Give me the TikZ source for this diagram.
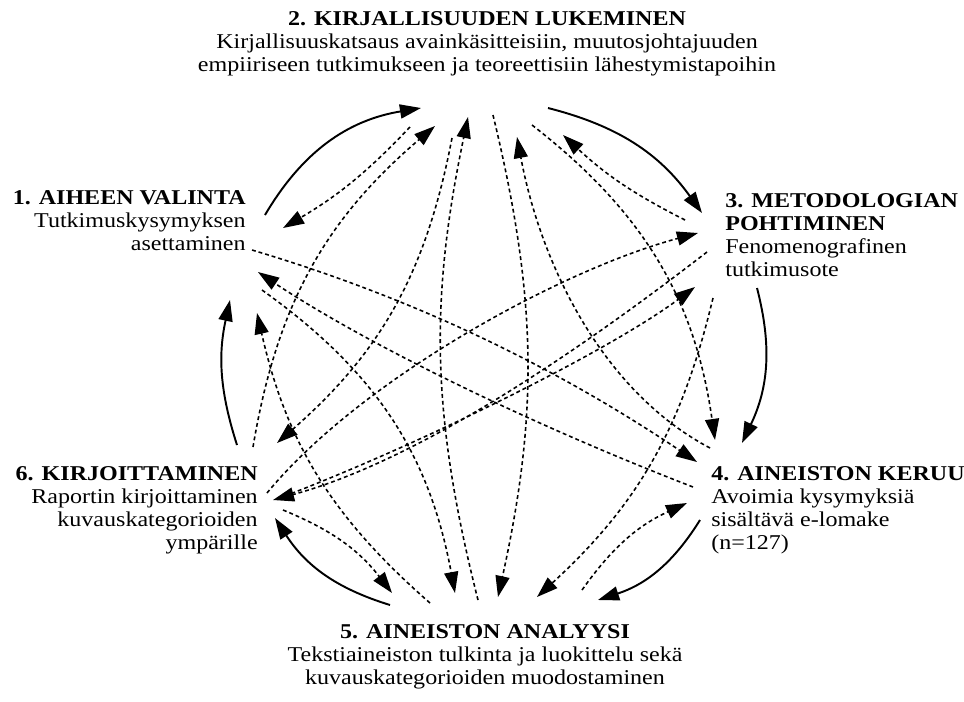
\documentclass[tikz,border=0pt]{standalone}
\usepackage{fontspec}
\setmainfont[FakeStretch=1.14]{Liberation Serif}
\usetikzlibrary{arrows.meta}
\begin{document}
\begin{tikzpicture}[x=0.02cm,y=-0.02cm,
  lbl/.style={font=\fontsize{12}{13.2}\selectfont, inner sep=0pt},
  tip/.style={-{Triangle[length=12pt,width=8pt]}},
  flow/.style={tip, line width=1.1pt},
  back/.style={tip, line width=0.9pt, dash pattern=on 2.2pt off 1.7pt}]
\useasboundingbox (0,0) rectangle (964,701);

% stage texts
\node[lbl, align=center, anchor=north] (t2) at (487,11)
  {\textbf{2. KIRJALLISUUDEN LUKEMINEN}\\
   Kirjallisuuskatsaus avainkäsitteisiin, muutosjohtajuuden\\
   empiiriseen tutkimukseen ja teoreettisiin lähestymistapoihin};
\node[lbl, align=right, anchor=north east] (t1) at (246,190)
  {\textbf{1. AIHEEN VALINTA}\\ Tutkimuskysymyksen\\ asettaminen};
\node[lbl, align=left, anchor=north west] (t3) at (725,193)
  {\textbf{3. METODOLOGIAN}\\ \textbf{POHTIMINEN}\\ Fenomenografinen\\ tutkimusote};
\node[lbl, align=left, anchor=north west] (t4) at (711,466)
  {\textbf{4. AINEISTON KERUU}\\ Avoimia kysymyksiä\\ sisältävä e-lomake\\ (n=127)};
\node[lbl, align=center, anchor=north] (t5) at (485,624)
  {\textbf{5. AINEISTON ANALYYSI}\\
   Tekstiaineiston tulkinta ja luokittelu sekä\\
   kuvauskategorioiden muodostaminen};
\node[lbl, align=right, anchor=north east] (t6) at (258,466)
  {\textbf{6. KIRJOITTAMINEN}\\ Raportin kirjoittaminen\\ kuvauskategorioiden\\ ympärille};

% attachment points, stage 1
\coordinate (a1s) at (265,215);  \coordinate (a1f) at (283,228);
\coordinate (a1a) at (252,250);  \coordinate (a1c) at (258,272);
\coordinate (a1b) at (262,290);  \coordinate (a1e) at (230,300);
\coordinate (a1d) at (257,313);
% stage 2
\coordinate (a2s) at (421,108);  \coordinate (a2f) at (410,127);
\coordinate (a2e) at (435,126);  \coordinate (a2g) at (452,138);
\coordinate (a2h) at (468,117);  \coordinate (a2i) at (493,115);
\coordinate (a2j) at (517,137);  \coordinate (a2k) at (532,125);
\coordinate (a2l) at (563,135);  \coordinate (a2o) at (548,108);
% stage 3
\coordinate (a3s) at (702,213);  \coordinate (a3l) at (685,220);
\coordinate (a3p) at (698,233);  \coordinate (a3q) at (707,252);
\coordinate (a3r) at (695,287);  \coordinate (a3m) at (713,298);
\coordinate (a3o) at (757,288);
% stage 4
\coordinate (a4k) at (715,440);  \coordinate (a4s) at (742,443);
\coordinate (a4j) at (710,448);  \coordinate (a4a) at (697,462);
\coordinate (a4u) at (693,487);  \coordinate (a4v) at (687,503);
\coordinate (a4o) at (700,520);
% stage 5
\coordinate (a5w) at (392,593);  \coordinate (a5o) at (390,605);
\coordinate (a5d) at (430,603);  \coordinate (a5b) at (455,593);
\coordinate (a5h) at (478,600);  \coordinate (a5i) at (498,597);
\coordinate (a5m) at (537,597);  \coordinate (a5v) at (582,590);
\coordinate (a5s) at (598,600);
% stage 6
\coordinate (a6o) at (237,445);  \coordinate (a6e) at (253,447);
\coordinate (a6g) at (277,443);  \coordinate (a6q) at (267,493);
\coordinate (a6x) at (273,500);  \coordinate (a6r) at (285,496);
\coordinate (a6w) at (283,510);  \coordinate (a6s) at (275,518);

% main cycle
\draw[flow] (a1s) to[bend left=25] (a2s);
\draw[flow] (a2o) to[bend left=20] (a3s);
\draw[flow] (a3o) to[bend left=20] (a4s);
\draw[flow] (a4o) to[bend left=20] (a5s);
\draw[flow] (a5o) to[bend left=20] (a6s);
\draw[flow] (a6o) to[bend left=15] (a1e);

% returns and cross links
\draw[back] (a2f) to[bend left=8] (a1f);
\draw[back] (a3l) to[bend left=8] (a2l);
\draw[back] (a6e) to[bend left=20] (a2e);
\draw[back] (a2g) to[bend left=19] (a6g);
\draw[back] (a5h) to[bend left=13] (a2h);
\draw[back] (a2i) to[bend left=13] (a5i);
\draw[back] (a2k) to[bend left=22] (a4k);
\draw[back] (a4j) .. controls (600,390) and (540,260) .. (a2j);
\draw[back] (a5d) to[bend left=18] (a1d);
\draw[back] (a3m) to[bend left=17] (a5m);
\draw[back] (a6w) to[bend left=15] (a5w);
\draw[back] (a5v) to[bend left=15] (a4v);
\draw[back] (a1a) .. controls (420,300) and (560,370) .. (a4a);
\draw[back] (a1b) to[bend left=22] (a5b);
\draw[back] (a3q) .. controls (580,350) and (420,460) .. (a6x);
\draw[back] (a4u) .. controls (520,420) and (360,340) .. (a1c);
\draw[back] (a6q) .. controls (360,380) and (560,270) .. (a3p);
\draw[back] (a6r) .. controls (430,440) and (610,350) .. (a3r);
\end{tikzpicture}
\end{document}
